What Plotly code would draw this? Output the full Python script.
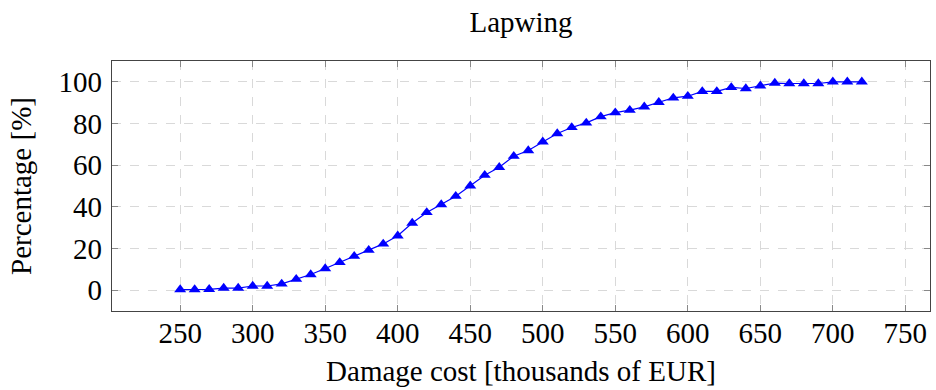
import plotly.graph_objects as go

# Damage cost (thousands of EUR) and cumulative percentage
cost = [250, 260, 270, 280, 290, 300, 310, 320, 330, 340,
        350, 360, 370, 380, 390, 400, 410, 420, 430, 440,
        450, 460, 470, 480, 490, 500, 510, 520, 530, 540,
        550, 560, 570, 580, 590, 600, 610, 620, 630, 640,
        650, 660, 670, 680, 690, 700, 710, 720]
percentage = [0.3, 0.3, 0.4, 1.0, 1.0, 2.0, 2.0, 3.0, 5.3, 7.5,
              10.4, 13.3, 16.3, 19.2, 22.2, 26.1, 32.2, 37.3, 41.1, 45.1,
              50.1, 55.2, 59.0, 64.3, 67.0, 71.2, 75.2, 78.1, 80.3, 83.3,
              85.2, 86.4, 88.0, 90.2, 92.3, 93.1, 95.4, 95.4, 97.3, 96.8,
              98.1, 99.4, 99.2, 99.2, 99.2, 100.0, 100.0, 100.0]

x_ticks = [250, 300, 350, 400, 450, 500, 550, 600, 650, 700, 750]
y_ticks = [0, 20, 40, 60, 80, 100]

FONT = "Liberation Serif"
TICK_SIZE = 29
LABEL_SIZE = 29

fig = go.Figure(
    go.Scatter(
        x=cost,
        y=percentage,
        mode="lines+markers",
        line=dict(color="#0000ff", width=1.2),
        marker=dict(symbol="triangle-up", size=10.5, color="#0000ff"),
        showlegend=False,
    )
)

axis_common = dict(
    showline=True,
    linecolor="#444444",
    linewidth=1.2,
    mirror="ticks",
    ticks="inside",
    ticklen=6,
    tickwidth=1,
    tickcolor="#888888",
    showgrid=True,
    gridcolor="#d9d9d9",
    griddash="dash",
    gridwidth=1,
    zeroline=False,
    tickfont=dict(family=FONT, size=TICK_SIZE, color="black"),
)

fig.update_xaxes(
    range=[203, 767],
    tickvals=x_ticks,
    ticklabelstandoff=-4,
    title=dict(text="Damage cost [thousands of EUR]",
               font=dict(family=FONT, size=LABEL_SIZE, color="black"), standoff=12),
    **axis_common,
)
fig.update_yaxes(
    range=[-10, 110],
    tickvals=y_ticks,
    ticklabelstandoff=3,
    title=dict(text="Percentage [%]",
               font=dict(family=FONT, size=LABEL_SIZE, color="black"), standoff=18),
    **axis_common,
)

fig.update_layout(
    width=936,
    height=390,
    margin=dict(l=112, r=6, t=61, b=79),
    paper_bgcolor="white",
    plot_bgcolor="white",
    title=dict(text="Lapwing", x=0.5567, xanchor="center", y=0.944, yanchor="middle",
               font=dict(family=FONT, size=LABEL_SIZE, color="black")),
    font=dict(family=FONT, color="black"),
)

fig.write_html("out.html")
